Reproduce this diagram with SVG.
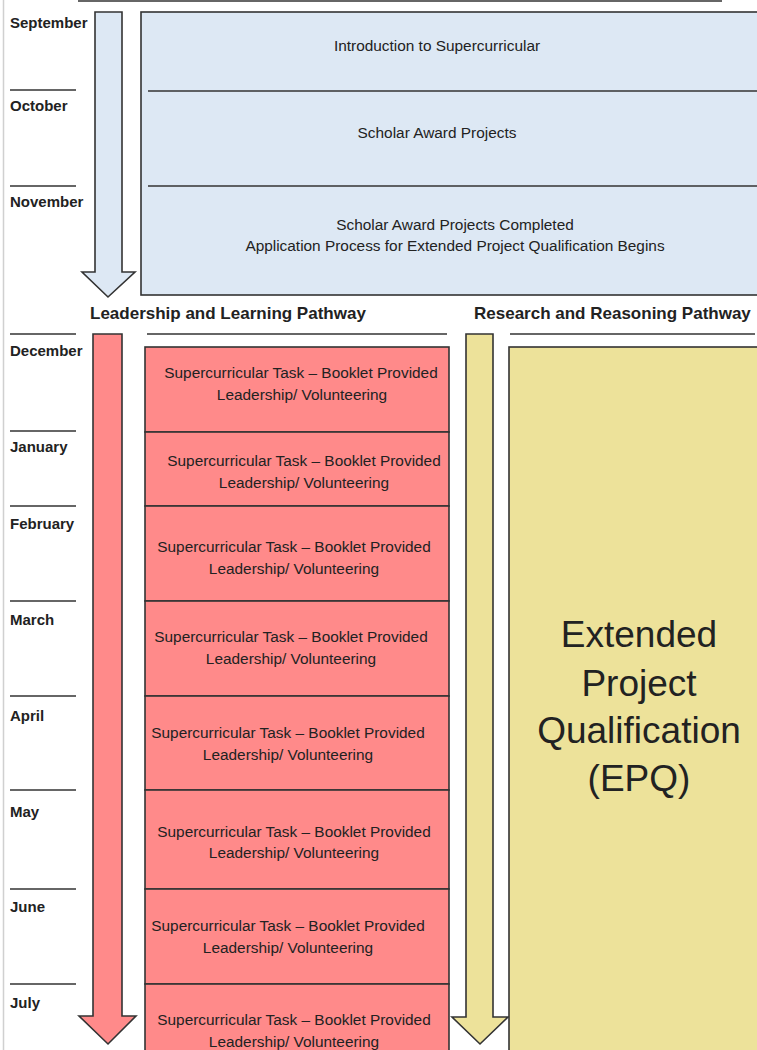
<svg xmlns="http://www.w3.org/2000/svg" width="757" height="1050" viewBox="0 0 757 1050">
<style>
.bg{fill:#ffffff}
.mon{font-family:"Liberation Sans",Arial,sans-serif;font-weight:bold;font-size:15px;fill:#222}
.hdr{font-family:"Liberation Sans",Arial,sans-serif;font-weight:bold;font-size:17px;fill:#222}
.txt{font-family:"Liberation Sans",Arial,sans-serif;font-size:15.4px;fill:#222;text-anchor:middle}
.big{font-family:"Liberation Sans",Arial,sans-serif;font-size:37px;fill:#222;text-anchor:middle}
.rule{stroke:#333;stroke-width:1.6;fill:none}
.blue{fill:#dde8f4;stroke:#333;stroke-width:1.6}
.red{fill:#ff8a8a;stroke:#333;stroke-width:1.6}
.yel{fill:#ede29a;stroke:#333;stroke-width:1.6}
</style>
<rect class="bg" x="0" y="0" width="757" height="1050"/>
<line x1="3.5" y1="0" x2="3.5" y2="1050" stroke="#d0d0d0" stroke-width="1.5"/>
<line class="rule" x1="78" y1="1" x2="722" y2="1"/>

<g id="months">
<text class="mon" x="10" y="28">September</text>
<line class="rule" x1="10" y1="90" x2="76" y2="90"/>
<text class="mon" x="10" y="111">October</text>
<line class="rule" x1="10" y1="186" x2="76" y2="186"/>
<text class="mon" x="10" y="207">November</text>
<line class="rule" x1="10" y1="334" x2="76" y2="334"/>
<text class="mon" x="10" y="356">December</text>
<line class="rule" x1="10" y1="431" x2="76" y2="431"/>
<text class="mon" x="10" y="452">January</text>
<line class="rule" x1="10" y1="506" x2="76" y2="506"/>
<text class="mon" x="10" y="529">February</text>
<line class="rule" x1="10" y1="601" x2="76" y2="601"/>
<text class="mon" x="10" y="625">March</text>
<line class="rule" x1="10" y1="696" x2="76" y2="696"/>
<text class="mon" x="10" y="721">April</text>
<line class="rule" x1="10" y1="790" x2="76" y2="790"/>
<text class="mon" x="10" y="817">May</text>
<line class="rule" x1="10" y1="889" x2="76" y2="889"/>
<text class="mon" x="10" y="912">June</text>
<line class="rule" x1="10" y1="984" x2="76" y2="984"/>
<text class="mon" x="10" y="1008">July</text>
</g>

<g id="connectors">
<polygon class="blue" points="95,12 122,12 122,272 135,272 108,297 82,272 95,272"/>
<polygon class="red" points="93,334 122,334 122,1016 136,1016 108,1044 79,1016 93,1016"/>
<polygon class="yel" points="466,334 493,334 493,1017 508,1017 480,1044 452,1017 466,1017"/>
</g>

<g id="autumn">
<rect class="blue" x="141" y="12" width="620" height="283"/>
<line class="rule" x1="148" y1="91" x2="757" y2="91"/>
<line class="rule" x1="148" y1="186" x2="757" y2="186"/>
</g>
<g id="intro"><text class="txt" x="437" y="51">Introduction to Supercurricular</text></g>
<g id="scholar"><text class="txt" x="437" y="138">Scholar Award Projects</text></g>
<g id="scholar-completed">
<text class="txt" x="455" y="230">Scholar Award Projects Completed</text>
<text class="txt" x="455" y="251">Application Process for Extended Project Qualification Begins</text>
</g>

<g id="hdr-left">
<text class="hdr" x="90" y="319">Leadership and Learning Pathway</text>
<line class="rule" x1="147" y1="334" x2="447" y2="334"/>
</g>
<g id="hdr-right">
<text class="hdr" x="474" y="319">Research and Reasoning Pathway</text>
<line class="rule" x1="510" y1="334" x2="755" y2="334"/>
</g>

<g id="dec"><rect class="red" x="145" y="347" width="304" height="85"/>
<text class="txt" x="301" y="378">Supercurricular Task – Booklet Provided</text>
<text class="txt" x="302" y="400">Leadership/ Volunteering</text></g>
<g id="jan"><rect class="red" x="145" y="432" width="304" height="74"/>
<text class="txt" x="304" y="466">Supercurricular Task – Booklet Provided</text>
<text class="txt" x="304" y="488">Leadership/ Volunteering</text></g>
<g id="feb"><rect class="red" x="145" y="506" width="304" height="95"/>
<text class="txt" x="294" y="552">Supercurricular Task – Booklet Provided</text>
<text class="txt" x="294" y="574">Leadership/ Volunteering</text></g>
<g id="mar"><rect class="red" x="145" y="601" width="304" height="95"/>
<text class="txt" x="291" y="642">Supercurricular Task – Booklet Provided</text>
<text class="txt" x="291" y="664">Leadership/ Volunteering</text></g>
<g id="apr"><rect class="red" x="145" y="696" width="304" height="94"/>
<text class="txt" x="288" y="738">Supercurricular Task – Booklet Provided</text>
<text class="txt" x="288" y="760">Leadership/ Volunteering</text></g>
<g id="may"><rect class="red" x="145" y="790" width="304" height="99"/>
<text class="txt" x="294" y="837">Supercurricular Task – Booklet Provided</text>
<text class="txt" x="294" y="858">Leadership/ Volunteering</text></g>
<g id="jun"><rect class="red" x="145" y="889" width="304" height="95"/>
<text class="txt" x="288" y="931">Supercurricular Task – Booklet Provided</text>
<text class="txt" x="288" y="953">Leadership/ Volunteering</text></g>
<g id="jul"><rect class="red" x="145" y="984" width="304" height="80"/>
<text class="txt" x="294" y="1025">Supercurricular Task – Booklet Provided</text>
<text class="txt" x="294" y="1047">Leadership/ Volunteering</text></g>

<g id="epq"><rect class="yel" x="509" y="347" width="260" height="720"/>
<text class="big" x="639" y="647">Extended</text>
<text class="big" x="639" y="696">Project</text>
<text class="big" x="639" y="743">Qualification</text>
<text class="big" x="639" y="791">(EPQ)</text></g>
</svg>
